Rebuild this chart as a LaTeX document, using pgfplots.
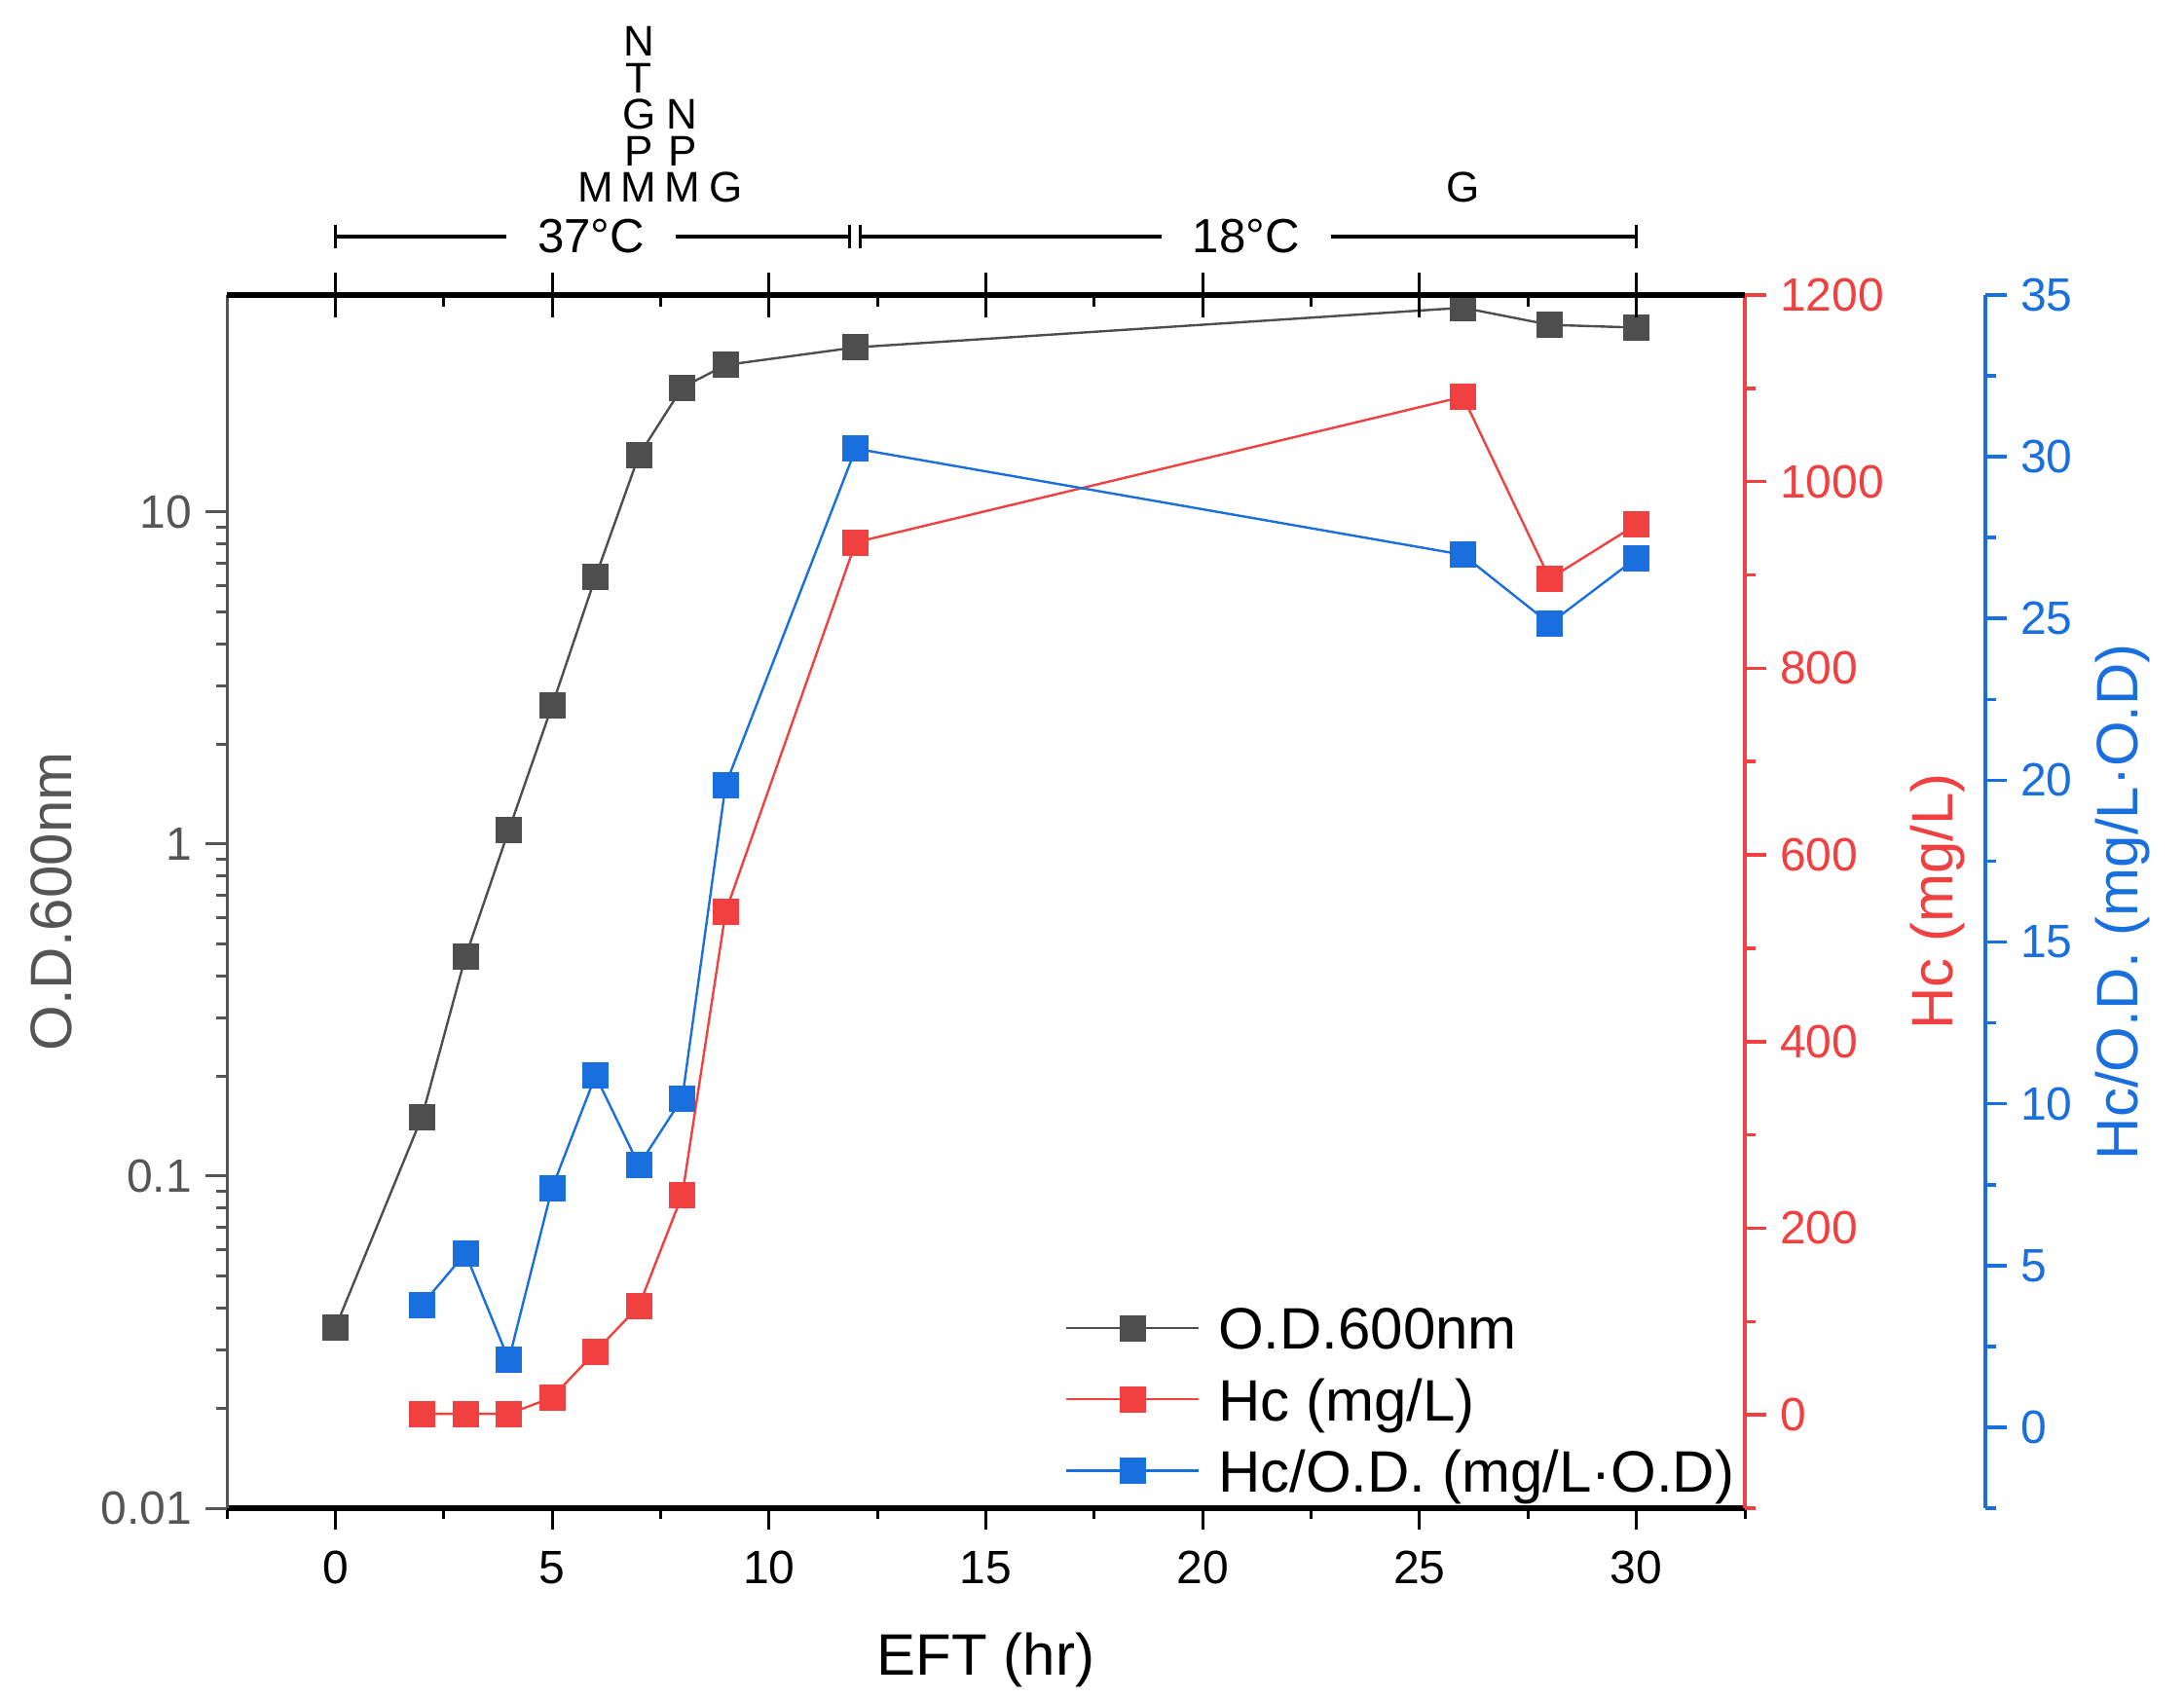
\documentclass[border=0pt]{standalone}
\usepackage{fontspec}
\setmainfont{Liberation Sans}
\usepackage{pgfplots}
\pgfplotsset{compat=1.18}
\usetikzlibrary{calc}
\definecolor{axgray}{RGB}{85,85,85}
\definecolor{odgray}{RGB}{78,78,78}
\definecolor{hcred}{RGB}{240,64,64}
\definecolor{hcblue}{RGB}{26,111,223}
\pgfplotsset{
  base/.style={
    scale only axis, width=389.75bp, height=311.5bp,
    xmin=-2.5, xmax=32.5, clip=false,
    /pgf/number format/assume math mode=true,
    /pgf/number format/1000 sep={},
    tick label style={font=\fontsize{12bp}{14bp}\selectfont},
    axis line style={-},
    major tick length=5.5bp, minor tick length=2.8bp,
    tick align=outside,
  },
  ser/.style={color=#1, line width=0.6bp, mark=square*, mark size=3.25bp,
    mark options={solid, fill=#1, draw=#1, line width=0.2bp}},
}
\newcommand{\lblfont}{\fontsize{15bp}{18bp}\selectfont}
\newcommand{\annfont}{\fontsize{11bp}{13bp}\selectfont}
\begin{document}
\begin{tikzpicture}
% ---------- main (log) axis ----------
\begin{axis}[base, name=main,
  ymode=log, ymin=0.01, ymax=45,
  axis x line*=bottom, axis y line*=left,
  x axis line style={line width=1.5bp, black},
  y axis line style={line width=0.75bp, axgray},
  xtick={0,5,...,30}, minor xtick={-2.5,2.5,...,32.5},
  ytick={0.01,0.1,1,10}, yticklabels={0.01,0.1,1,10},
  xtick style={black, line width=0.75bp},
  ytick style={axgray, line width=0.75bp},
  yticklabel style={axgray},
  xticklabel style={black, yshift=-2bp},
]
\addplot[ser=odgray] coordinates {
(0,0.0349) (2,0.151) (3,0.457) (4,1.10) (5,2.61) (6,6.37) (7,14.8) (8,23.7) (9,27.7) (12,31.3) (26,41.2) (28,36.6) (30,35.9)
};
\end{axis}
% ---------- red axis ----------
\begin{axis}[base,
  hide x axis, axis y line*=right,
  ymin=-100, ymax=1200,
  ytick={0,200,...,1200}, minor ytick={-100,100,...,1100},
  y axis line style={line width=0.9bp, hcred},
  ytick style={hcred, line width=0.9bp},
  yticklabel style={hcred},
]
\addplot[ser=hcred] coordinates {
(2,1) (3,1) (4,1) (5,18.6) (6,67.7) (7,116.7) (8,235.7) (9,539) (12,935) (26,1091) (28,896) (30,954)
};
\end{axis}
% ---------- blue data + legend ----------
\begin{axis}[base, hide x axis, hide y axis, ymin=-2.5, ymax=35,
  legend style={at={(rel axis cs:0.5516,0)}, anchor=south west, yshift=0.5bp,
    draw=none, fill=none, font=\lblfont, inner sep=0pt, row sep=3.8bp, column sep=4.75bp,
    nodes={inner sep=0pt, text height=11bp, text depth=3.5bp}},
  legend cell align=left,
  legend image code/.code={\draw[mark repeat=2, mark phase=2, #1] plot coordinates {(0bp,1.7bp) (17bp,1.7bp) (34bp,1.7bp)};},
]
\addlegendimage{ser=odgray}
\addlegendentry{O.D.600nm}
\addlegendimage{ser=hcred}
\addlegendentry{Hc (mg/L)}
\addplot[ser=hcblue] coordinates {
(2,3.79) (3,5.38) (4,2.08) (5,7.4) (6,10.87) (7,8.1) (8,10.17) (9,19.86) (12,30.25) (26,26.97) (28,24.84) (30,26.87)
};
\addlegendentry{Hc/O.D. (mg/L·O.D)}
\end{axis}
% ---------- blue offset axis ----------
\begin{axis}[base, at={(61.75bp,0)}, hide x axis, axis y line*=right,
  ymin=-2.5, ymax=35,
  ytick={0,5,...,35}, minor ytick={-2.5,2.5,...,32.5},
  y axis line style={line width=0.9bp, hcblue},
  ytick style={hcblue, line width=0.9bp},
  yticklabel style={hcblue},
]
\addplot[draw=none] coordinates {(0,0)};
\end{axis}
% ---------- top axis (major crossing ticks + annotations) ----------
\begin{axis}[base, ymin=0, ymax=1, hide y axis, axis x line*=top,
  x axis line style={line width=1.5bp, black},
  xtick={0,5,...,30}, xticklabels={}, tick align=center, major tick length=11.6bp,
  xtick style={black, line width=0.75bp}, minor xtick={},
]
\addplot[draw=none] coordinates {(0,0)};
% timeline
\draw[line width=1.2bp] ([yshift=15bp]axis cs:0,1) -- ([yshift=15bp]axis cs:11.85,1);
\draw[line width=1.2bp] ([yshift=15bp]axis cs:12.1,1) -- ([yshift=15bp]axis cs:30,1);
\draw[line width=0.75bp] ([yshift=12bp]axis cs:0,1) -- ([yshift=18bp]axis cs:0,1);
\draw[line width=0.75bp] ([yshift=12bp]axis cs:11.85,1) -- ([yshift=18bp]axis cs:11.85,1);
\draw[line width=0.75bp] ([yshift=12bp]axis cs:12.1,1) -- ([yshift=18bp]axis cs:12.1,1);
\draw[line width=0.75bp] ([yshift=12bp]axis cs:30,1) -- ([yshift=18bp]axis cs:30,1);
\node[fill=white, inner xsep=8bp, inner ysep=1bp, font=\fontsize{12.3bp}{14bp}\selectfont] at ([yshift=15bp]axis cs:5.9,1) {37°C};
\node[fill=white, inner xsep=8bp, inner ysep=1bp, font=\fontsize{12.3bp}{14bp}\selectfont] at ([yshift=15bp]axis cs:21,1) {18°C};
% feed letters
\node[anchor=base, inner sep=0pt, font=\annfont] at ([yshift=23.75bp]axis cs:6,1) {M};
\node[anchor=base, inner sep=0pt, font=\annfont] at ([yshift=23.75bp]axis cs:7,1) {M};
\node[anchor=base, inner sep=0pt, font=\annfont] at ([yshift=33.15bp]axis cs:7,1) {P};
\node[anchor=base, inner sep=0pt, font=\annfont] at ([yshift=42.55bp]axis cs:7,1) {G};
\node[anchor=base, inner sep=0pt, font=\annfont] at ([yshift=51.95bp]axis cs:7,1) {T};
\node[anchor=base, inner sep=0pt, font=\annfont] at ([yshift=61.35bp]axis cs:7,1) {N};
\node[anchor=base, inner sep=0pt, font=\annfont] at ([yshift=23.75bp]axis cs:8,1) {M};
\node[anchor=base, inner sep=0pt, font=\annfont] at ([yshift=33.15bp]axis cs:8,1) {P};
\node[anchor=base, inner sep=0pt, font=\annfont] at ([yshift=42.55bp]axis cs:8,1) {N};
\node[anchor=base, inner sep=0pt, font=\annfont] at ([yshift=23.75bp]axis cs:9,1) {G};
\node[anchor=base, inner sep=0pt, font=\annfont] at ([yshift=23.75bp]axis cs:26,1) {G};
\end{axis}
% ---------- top minor ticks ----------
\begin{axis}[base, ymin=0, ymax=1, hide y axis, axis x line*=top,
  x axis line style={draw=none},
  xtick={2.5,7.5,...,27.5}, xticklabels={}, tick align=inside, major tick length=3bp,
  xtick style={black, line width=0.75bp}, minor xtick={},
]
\addplot[draw=none] coordinates {(0,0)};
\end{axis}
% ---------- axis labels ----------
\node[font=\lblfont, anchor=base] at ($(main.south)+(0,-42.75bp)$) {EFT (hr)};
\node[font=\lblfont, rotate=90, text=axgray] at ($(main.west)+(-45bp,0)$) {O.D.600nm};
\node[font=\lblfont, rotate=90, text=hcred] at ($(main.east)+(49.5bp,0)$) {Hc (mg/L)};
\node[font=\lblfont, rotate=90, text=hcblue] at ($(main.east)+(97bp,0)$) {Hc/O.D. (mg/L·O.D)};
\pgfresetboundingbox
\path[use as bounding box] ($(main.south west)+(-58.25bp,-49bp)$) rectangle ++(560.75bp,436.25bp);
\end{tikzpicture}
\end{document}
